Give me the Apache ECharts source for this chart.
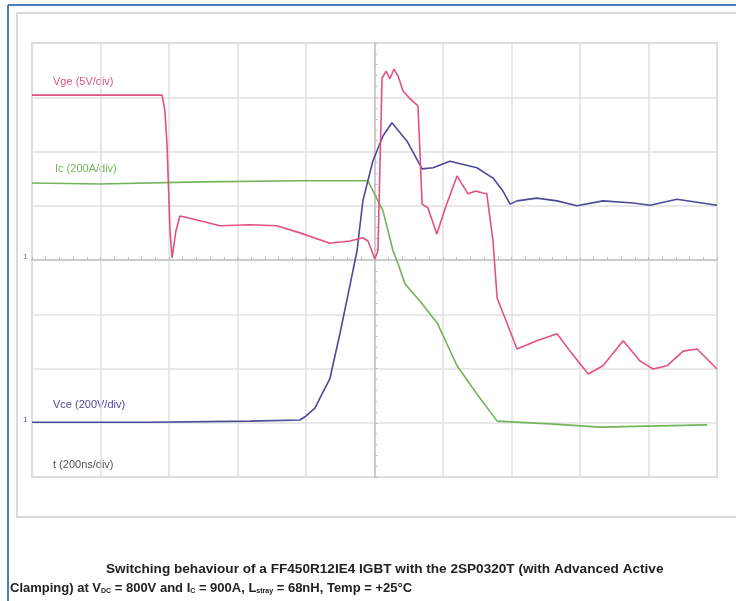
<!DOCTYPE html>
<html>
<head>
<meta charset="utf-8">
<script src="https://cdn.jsdelivr.net/npm/echarts@6/dist/echarts.min.js"></script>
<style>
  html, body { margin: 0; padding: 0; background: #fff; }
  #chart { width: 736px; height: 601px; }
</style>
</head>
<body>
<div id="chart"></div>
<script>
// time in ns relative to trigger (200ns/div), level in divisions
var vgeData = [[-1000,3.04],[-620,3.04],[-612,2.75],[-606,2.16],[-597,0.53],[-591,0.04],[-580,0.53],[-568,0.81],[-539,0.77],
  [-451,0.63],[-364,0.65],[-285,0.63],[-218,0.5],[-130,0.31],[-72,0.35],[-34,0.41],[-19,0.35],[1,0.02],[10,0.17],
  [22,3.35],[34,3.48],[45,3.34],[57,3.52],[69,3.39],[83,3.12],[104,2.97],[127,2.84],[139,1.03],[156,0.96],[182,0.48],
  [209,1.0],[241,1.55],[273,1.22],[296,1.27],[314,1.24],[328,1.22],[346,0.35],[358,-0.7],[381,-1.07],[416,-1.64],
  [474,-1.49],[533,-1.36],[571,-1.68],[624,-2.1],[667,-1.95],[726,-1.49],[775,-1.86],[813,-2.01],[854,-1.95],
  [901,-1.68],[942,-1.64],[1000,-2.01]];
var icData = [[-1000,1.42],[-801,1.4],[-509,1.44],[-218,1.46],[-19,1.46],[25,0.9],[54,0.17],[66,-0.02],[89,-0.44],
  [133,-0.76],[183,-1.16],[241,-1.95],[299,-2.47],[358,-2.97],[512,-3.02],[658,-3.08],[971,-3.04]];
var vceData = [[-1000,-2.99],[-655,-2.99],[-363,-2.97],[-218,-2.95],[-203,-2.89],[-174,-2.73],[-130,-2.18],[-101,-1.36],
  [-77,-0.63],[-51,0.17],[-34,1.09],[-5,1.82],[25,2.29],[51,2.53],[95,2.19],[139,1.68],[171,1.7],[220,1.82],
  [299,1.7],[346,1.51],[375,1.27],[396,1.03],[416,1.09],[474,1.14],[533,1.09],[591,1.0],[667,1.09],[755,1.05],
  [805,1.01],[883,1.12],[1000,1.01]];
var traceNames = ['Vge (5V/div)', 'Ic (200A/div)', 'Vce (200V/div)', 't (200ns/div)'];
var captionLines = ['Switching behaviour of a FF450R12IE4 IGBT with the 2SP0320T (with Advanced Active',
  'Clamping) at V{s|DC} = 800V and I{s|C} = 900A, L{s|stray} = 68nH, Temp = +25°C'];

var pink = '#e2527f', green = '#74b35a', blue = '#4b4a98';
var labelFont = '11px "Liberation Sans", sans-serif';
var chart = echarts.init(document.getElementById('chart'));

function trace(name, data, color) {
    return {
        name: name, type: 'line', data: data, showSymbol: false, animation: false,
        lineStyle: { color: color, width: 1.6 }, itemStyle: { color: color }
    };
}

chart.setOption({
    backgroundColor: '#fff',
    grid: { left: 32, top: 43, right: 19, bottom: 124, show: true, borderColor: '#c8c8c8', borderWidth: 1.5, backgroundColor: '#fff' },
    xAxis: {
        type: 'value', min: -1000, max: 1000, interval: 200,
        axisLine: { onZero: true, lineStyle: { color: '#c4c4c4', width: 1.5 } },
        axisTick: { show: true, inside: true, length: 3, lineStyle: { color: '#bbb' } },
        minorTick: { show: true, splitNumber: 5, length: 3, lineStyle: { color: '#bbb' } },
        axisLabel: { show: false },
        splitLine: { lineStyle: { color: '#e0e0e0', width: 1.5 } }
    },
    yAxis: {
        type: 'value', min: -4, max: 4, interval: 1,
        axisLine: { show: true, onZero: true, lineStyle: { color: '#c4c4c4', width: 1.5 } },
        axisTick: { show: true, inside: true, length: 3, lineStyle: { color: '#bbb' } },
        minorTick: { show: true, splitNumber: 5, length: 3, lineStyle: { color: '#bbb' } },
        axisLabel: { show: false },
        splitLine: { lineStyle: { color: '#e0e0e0', width: 1.5 } }
    },
    series: [
        trace('Ic', icData, green),
        trace('Vce', vceData, blue),
        trace('Vge', vgeData, pink)
    ],
    graphic: [
        { type: 'line', shape: { x1: 8, y1: 5, x2: 736, y2: 5 }, style: { stroke: '#4a7cc4', lineWidth: 2 }, silent: true },
        { type: 'line', shape: { x1: 8, y1: 5, x2: 8, y2: 601 }, style: { stroke: '#4a7cc4', lineWidth: 2 }, silent: true },
        { type: 'rect', shape: { x: 17, y: 13, width: 740, height: 504 }, style: { fill: null, stroke: '#d0d0d0', lineWidth: 1.5 }, z: -1, silent: true },
        { type: 'text', left: 53, top: 76, style: { text: traceNames[0], fill: pink, font: labelFont } },
        { type: 'text', left: 55, top: 163, style: { text: traceNames[1], fill: green, font: labelFont } },
        { type: 'text', left: 53, top: 399, style: { text: traceNames[2], fill: blue, font: labelFont } },
        { type: 'text', left: 53, top: 459, style: { text: traceNames[3], fill: '#555', font: labelFont } },
        { type: 'text', left: 23, top: 253, style: { text: '1', fill: pink, font: '8px sans-serif' } },
        { type: 'text', left: 23, top: 416, style: { text: '1', fill: blue, font: '8px sans-serif' } },
        {
            type: 'text', left: 106, top: 562,
            style: { text: captionLines[0], fill: '#222', font: 'bold 13.6px "Liberation Sans", sans-serif' }
        },
        {
            type: 'text', left: 10, top: 582,
            style: {
                text: captionLines[1], fill: '#222', font: 'bold 13px "Liberation Sans", sans-serif',
                rich: { s: { fontSize: 7, fontWeight: 'bold', fontFamily: '"Liberation Sans", sans-serif', fill: '#222', verticalAlign: 'bottom', padding: [6, 0, 0, 0] } }
            }
        }
    ]
});
</script>
</body>
</html>
